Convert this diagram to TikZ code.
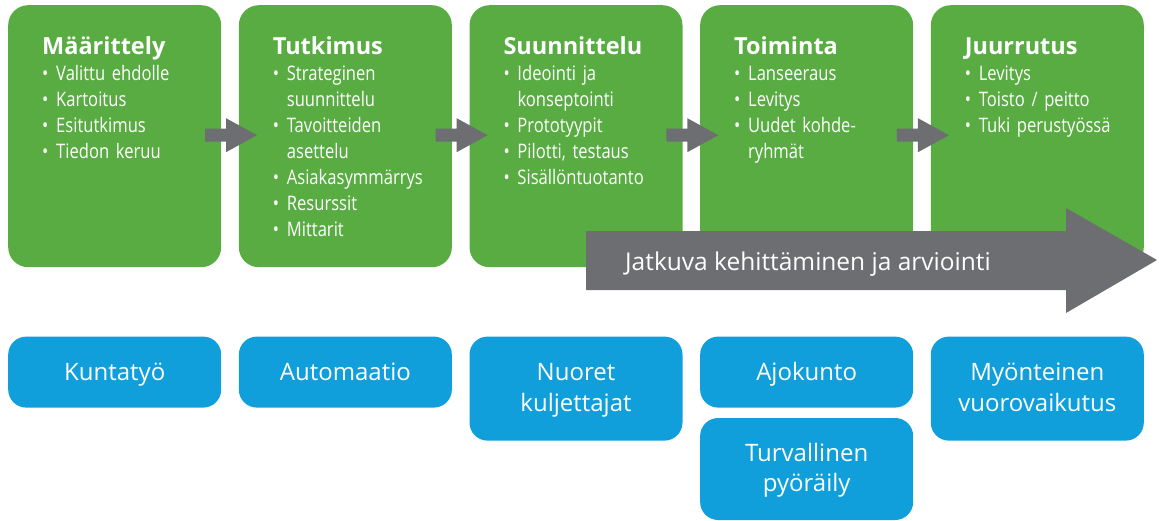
\documentclass[tikz,border=0pt]{standalone}
\usepackage{fontspec}
\setmainfont{Open Sans}
\newfontfamily\condfont[FakeStretch=0.83]{Open Sans}
\usetikzlibrary{positioning,calc}

\definecolor{phasegreen}{RGB}{88,172,66}
\definecolor{goalblue}{RGB}{16,159,219}
\definecolor{arrowgray}{RGB}{109,110,113}

\newcommand\phasehead[1]{{\rmfamily\fontsize{23.5}{26}\bfseries\selectfont\rule{0pt}{22pt}#1}}
\newcommand\itm{\makebox[14pt][l]{\textbullet}}
\newcommand\cont{\hspace*{14pt}}

\tikzset{phase/.style={fill=phasegreen, rounded corners=20pt, minimum width=213pt,
    minimum height=262pt, inner sep=0pt}}
\tikzset{phasetext/.style={anchor=north west, text=white, inner sep=0pt,
    text width=178pt, align=left, font=\condfont\fontsize{20}{26}\selectfont}}
\tikzset{goal/.style={fill=goalblue, rounded corners=18pt, minimum width=213pt,
    minimum height=71pt, text=white, align=center, text height=17pt,
    text depth=0pt, font=\fontsize{24}{30.5}\selectfont}}
\tikzset{goaltwo/.style={goal, minimum height=104pt, text height=45pt}}
\tikzset{flowarrow/.style={fill=arrowgray}}

\begin{document}
\begin{tikzpicture}[x=1pt,y=-1pt]
    \useasboundingbox (0,0) rectangle (1159,520);
    % phases
    \node[phase, anchor=north west] (maar) at (8,5) {};
    \node[phase, right=17.25pt of maar] (tutk) {};
    \node[phase, right=17.25pt of tutk] (suun) {};
    \node[phase, right=17.25pt of suun] (toim) {};
    \node[phase, right=17.25pt of toim] (juur) {};
    \node[phasetext] (maar-t) at ($(maar.north west)+(34,27.5)$)
        {\phasehead{Määrittely}\\ \itm Valittu ehdolle\\ \itm Kartoitus\\
         \itm Esitutkimus\\ \itm Tiedon keruu};
    \node[phasetext] (tutk-t) at ($(tutk.north west)+(34,27.5)$)
        {\phasehead{Tutkimus}\\ \itm Strateginen\\ \cont suunnittelu\\
         \itm Tavoitteiden\\ \cont asettelu\\ \itm Asiakasymmärrys\\
         \itm Resurssit\\ \itm Mittarit};
    \node[phasetext] (suun-t) at ($(suun.north west)+(34,27.5)$)
        {\phasehead{Suunnittelu}\\ \itm Ideointi ja\\ \cont konseptointi\\
         \itm Prototyypit\\ \itm Pilotti, testaus\\ \itm Sisällöntuotanto};
    \node[phasetext] (toim-t) at ($(toim.north west)+(34,27.5)$)
        {\phasehead{Toiminta}\\ \itm Lanseeraus\\ \itm Levitys\\
         \itm Uudet kohde-\\ \cont ryhmät};
    \node[phasetext] (juur-t) at ($(juur.north west)+(34,27.5)$)
        {\phasehead{Juurrutus}\\ \itm Levitys\\ \itm Toisto / peitto\\
         \itm Tuki perustyössä};
    % arrows between phases
    \foreach \a/\b in {maar/tutk, tutk/suun, suun/toim, toim/juur}
        \fill[flowarrow] ($(\a.east)!0.5!(\b.west)$) ++(-25,-7.5) -- ++(21,0)
            -- ++(0,-10.5) -- ++(31,17) -- ++(-31,17) -- ++(0,-10.5)
            -- ++(-21,0) -- cycle;
    % continuous development arrow
    \fill[flowarrow] (586,231) -- (1066,231) -- (1066,208) -- (1157,260)
        -- (1066,313) -- (1066,290) -- (586,290) -- cycle;
    \node[anchor=base west, text=white, inner sep=0pt,
        font=\fontsize{24.5}{30}\selectfont] (jatkuva) at (625,270)
        {Jatkuva kehittäminen ja arviointi};
    % goals
    \node[goal, below=69pt of maar] (kunta) {Kuntatyö};
    \node[goal, below=69pt of tutk] (auto) {Automaatio};
    \node[goaltwo, below=69pt of suun] (nuoret) {Nuoret\\kuljettajat};
    \node[goal, below=69pt of toim] (ajo) {Ajokunto};
    \node[goaltwo, below=10pt of ajo, minimum height=102pt] (turva) {Turvallinen\\pyöräily};
    \node[goaltwo, below=69pt of juur] (myont) {Myönteinen\\vuorovaikutus};
\end{tikzpicture}
\end{document}
